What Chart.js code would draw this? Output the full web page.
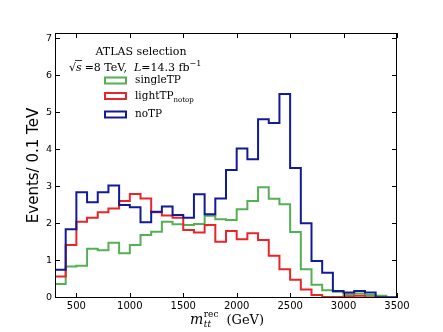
<!DOCTYPE html>
<html>
<head>
<meta charset="utf-8">
<script src="https://cdn.jsdelivr.net/npm/chart.js@4"></script>
<style>
  html, body { margin: 0; padding: 0; background: #fff; }
  canvas { display: block; }
</style>
</head>
<body>
<canvas id="chart" width="443" height="332"></canvas>
<script>
// Data (100 GeV bins)
const binEdges = [300, 400, 500, 600, 700, 800, 900, 1000, 1100, 1200, 1300, 1400, 1500, 1600, 1700, 1800,
                  1900, 2000, 2100, 2200, 2300, 2400, 2500, 2600, 2700, 2800, 2900, 3000, 3100, 3200, 3300, 3400];
const xMin = 300, xMax = 3500;
const yMax = 7.16;
const xTicks = [500, 1000, 1500, 2000, 2500, 3000, 3500];
const yTicks = [0, 1, 2, 3, 4, 5, 6, 7];

const singleTP = [0.38, 0.85, 0.87, 1.33, 1.29, 1.49, 1.21, 1.43, 1.70, 1.79, 2.06, 1.99, 1.97, 2.00, 2.22, 2.13,
                  2.11, 2.40, 2.62, 2.99, 2.68, 2.53, 1.78, 0.78, 0.36, 0.21, 0.17, 0.10, 0.12, 0.08, 0.06, 0.01];
const lightTP = [0.58, 1.43, 2.06, 2.17, 2.32, 2.42, 2.62, 2.81, 2.69, 2.32, 2.23, 2.17, 1.84, 1.77, 1.97, 1.52,
                 1.81, 1.59, 1.75, 1.57, 1.14, 0.78, 0.49, 0.23, 0.08, 0.03, 0.03, 0.05, 0.06, 0.02, 0.01, 0.00];
const noTP = [0.76, 1.86, 2.86, 2.59, 2.86, 3.04, 2.51, 2.45, 2.05, 2.33, 2.47, 2.24, 2.17, 2.80, 2.26, 2.69,
              3.46, 4.04, 3.75, 4.83, 4.73, 5.51, 3.51, 2.02, 1.00, 0.68, 0.19, 0.15, 0.19, 0.15, 0.02, 0.02];

const COLORS = { green: '#55b055', red: '#e8262a', blue: '#121b96' };

// Turn bin values into step points (left edge of each bin, closed at both ends)
function toSteps(values) {
    const pts = [{ x: binEdges[0], y: 0 }];
    values.forEach((v, i) => pts.push({ x: binEdges[i], y: v }));
    pts.push({ x: xMax, y: values[values.length - 1] });
    pts.push({ x: xMax, y: 0 });
    return pts;
}

function histSet(label, values, color, order) {
    return {
        label: label,
        data: toSteps(values),
        borderColor: color,
        borderWidth: 2,
        pointRadius: 0,
        fill: false,
        stepped: 'before',
        order: order
    };
}

// Frame, inward ticks, titles and the legend box
const decorations = {
    id: 'decorations',
    afterDraw(chart) {
        const ctx = chart.ctx;
        const { left, right, top, bottom } = chart.chartArea;
        const xs = chart.scales.x, ys = chart.scales.y;
        ctx.save();

        ctx.strokeStyle = '#000';
        ctx.lineWidth = 1;
        ctx.strokeRect(left + 0.5, top + 0.5, right - left - 1, bottom - top - 1);

        ctx.beginPath();
        xTicks.forEach(v => {
            const px = Math.round(xs.getPixelForValue(v)) + 0.5;
            ctx.moveTo(px, bottom); ctx.lineTo(px, bottom - 5);
            ctx.moveTo(px, top); ctx.lineTo(px, top + 5);
        });
        yTicks.forEach(v => {
            const py = Math.round(ys.getPixelForValue(v)) - 0.5;
            ctx.moveTo(left, py); ctx.lineTo(left + 5, py);
            ctx.moveTo(right, py); ctx.lineTo(right - 5, py);
        });
        ctx.stroke();

        // y title
        ctx.fillStyle = '#000';
        ctx.font = '15px "DejaVu Sans"';
        ctx.textAlign = 'center';
        ctx.textBaseline = 'middle';
        ctx.save();
        ctx.translate(34, (top + bottom) / 2);
        ctx.rotate(-Math.PI / 2);
        ctx.fillText('Events/ 0.1 TeV', 0, 0);
        ctx.restore();

        // x title: m_tt^rec (GeV)
        ctx.textAlign = 'left';
        ctx.textBaseline = 'alphabetic';
        let x = 190;
        const base = 324;
        ctx.font = 'italic 14px "DejaVu Serif"';
        ctx.fillText('m', x, base);
        x += ctx.measureText('m').width + 0.5;
        ctx.font = 'italic 9px "DejaVu Serif"';
        ctx.fillText('tt', x, base + 3);
        ctx.font = '9px "DejaVu Serif"';
        ctx.fillText('rec', x, base - 7);
        x += ctx.measureText('rec').width + 8;
        ctx.font = '13px "DejaVu Serif"';
        ctx.fillText('(GeV)', x, base);

        // header text
        ctx.font = '11px "DejaVu Serif"';
        ctx.textAlign = 'center';
        ctx.fillText('ATLAS selection', 141, 55);

        ctx.textAlign = 'left';
        x = 69;
        const b2 = 71;
        ctx.font = '11px "DejaVu Serif"';
        ctx.fillText('\u221a', x, b2);
        x += ctx.measureText('\u221a').width;
        ctx.font = 'italic 11px "DejaVu Serif"';
        const sw = ctx.measureText('s').width;
        ctx.fillText('s', x, b2);
        ctx.beginPath();
        ctx.moveTo(x - 1, b2 - 10.5); ctx.lineTo(x + sw + 0.5, b2 - 10.5);
        ctx.lineWidth = 0.8;
        ctx.stroke();
        x += sw + 3;
        ctx.font = '11px "DejaVu Serif"';
        ctx.fillText('=8 TeV,', x, b2);
        x += ctx.measureText('=8 TeV,').width + 7;
        ctx.font = 'italic 11px "DejaVu Serif"';
        ctx.fillText('L', x, b2);
        x += ctx.measureText('L').width;
        ctx.font = '11px "DejaVu Serif"';
        ctx.fillText('=14.3 fb', x, b2);
        x += ctx.measureText('=14.3 fb').width;
        ctx.font = '8px "DejaVu Serif"';
        ctx.fillText('\u22121', x, b2 - 5);

        // legend entries
        const entries = [
            { text: 'singleTP', sub: '', color: COLORS.green, y: 80.5 },
            { text: 'lightTP', sub: 'notop', color: COLORS.red, y: 96 },
            { text: 'noTP', sub: '', color: COLORS.blue, y: 114.5 }
        ];
        entries.forEach(e => {
            ctx.strokeStyle = e.color;
            ctx.lineWidth = 2;
            ctx.strokeRect(105, e.y - 3, 21, 6);
            ctx.fillStyle = '#000';
            ctx.font = '10.5px "DejaVu Serif"';
            ctx.textBaseline = 'middle';
            ctx.fillText(e.text, 135, e.y);
            if (e.sub) {
                const w = ctx.measureText(e.text).width;
                ctx.font = '7px "DejaVu Serif"';
                ctx.fillText(e.sub, 135 + w, e.y + 4);
            }
        });

        ctx.restore();
    }
};

new Chart(document.getElementById('chart'), {
    type: 'line',
    data: {
        datasets: [
            histSet('singleTP', singleTP, COLORS.green, 2),
            histSet('lightTP_notop', lightTP, COLORS.red, 1),
            histSet('noTP', noTP, COLORS.blue, 0)
        ]
    },
    options: {
        responsive: false,
        animation: false,
        devicePixelRatio: 1,
        layout: { padding: { left: 0, right: 46, top: 33, bottom: 0 } },
        plugins: { legend: { display: false }, tooltip: { enabled: false } },
        scales: {
            x: {
                type: 'linear',
                min: xMin,
                max: xMax,
                grid: { display: false, drawTicks: false },
                border: { display: false },
                afterBuildTicks: s => { s.ticks = xTicks.map(v => ({ value: v })); },
                afterFit: s => { s.height = 34; },
                ticks: {
                    color: '#000',
                    font: { family: 'DejaVu Sans', size: 10 },
                    padding: 2,
                    maxRotation: 0,
                    autoSkip: false,
                    callback: v => String(v)
                }
            },
            y: {
                min: 0,
                max: yMax,
                grid: { display: false, drawTicks: false },
                border: { display: false },
                afterBuildTicks: s => { s.ticks = yTicks.map(v => ({ value: v })); },
                afterFit: s => { s.width = 55; },
                ticks: {
                    color: '#000',
                    font: { family: 'DejaVu Sans', size: 9.5 },
                    padding: 3,
                    autoSkip: false,
                    callback: v => String(v)
                }
            }
        }
    },
    plugins: [decorations]
});
</script>
</body>
</html>
